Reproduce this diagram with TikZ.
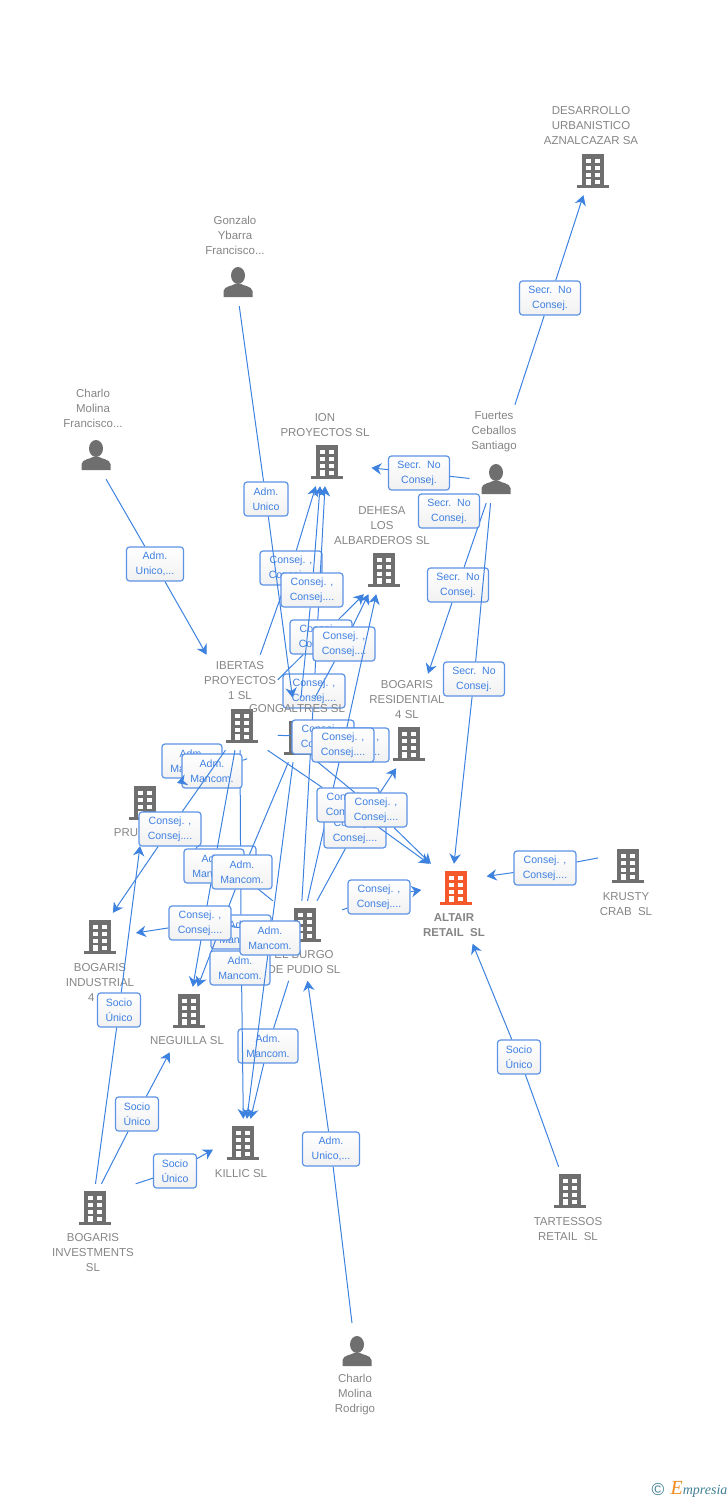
\documentclass[tikz,border=0pt]{standalone}
\usepackage{fontspec}
\setmainfont{Liberation Sans}
\newfontfamily\logofont{Liberation Serif}
\usetikzlibrary{arrows.meta,fit}
\definecolor{officegray}{HTML}{6F6F6F}
\definecolor{tagray}{HTML}{858585}
\definecolor{altairred}{HTML}{F4592B}
\definecolor{lineblue}{HTML}{3E82E0}
\definecolor{roleblue}{HTML}{3F80E2}
\definecolor{boxgray}{HTML}{F1F1F1}
\definecolor{logoteal}{HTML}{3F7F93}
\definecolor{logoorange}{HTML}{F08A1D}
\newcommand{\rolecons}{Consej. ,\\Consej....}
\newcommand{\rolemanc}{Adm.\\Mancom.}
\newcommand{\rolesocio}{Socio\\Único}
\newcommand{\rolesecr}{Secr.\ \ No\\Consej.}
\newcommand{\roleunico}{Adm.\\Unico,...}
\newcommand{\rolesolo}{Adm.\\Unico}
\newcommand{\entity}[7]{%
  \node[#1] (#2-icon) at (#3,#4) {};
  \node[tag,yshift=-.75pt] (#2-text) at (#5,#6) {#7};
  \node[fit=(#2-icon)(#2-text),inner xsep=1pt,inner ysep=5pt] (#2) {};
}
\tikzset{
  >/.tip={Stealth[length=7.5pt,width=8.5pt,inset=2.4pt]},
  link/.style={draw=lineblue,line width=.75pt},
  rolebox/.style={draw=roleblue!85,line width=.9pt,rounded corners=2.25pt,top color=white,bottom color=boxgray,
    text=roleblue,align=center,inner sep=0pt,minimum height=25.5pt,minimum width=#1*.75pt,
    font=\fontsize{7.9pt}{11.25pt}\selectfont},
  tag/.style={text=tagray,align=center,inner sep=0pt,font=\fontsize{8.6pt}{11.25pt}\selectfont},
  office/.style={inner sep=0pt,minimum width=24pt,minimum height=25.5pt,path picture={
    \begin{scope}[shift={(path picture bounding box.center)},x=.75pt,y=.75pt]
      \fill[#1] (-11,-14) rectangle (11,17);
      \fill[#1] (-16,-17) rectangle (16,-14);
      \fill[white] (-7.2,8) rectangle +(5,4);
      \fill[white] (2.2,8) rectangle +(5,4);
      \fill[white] (-7.2,1) rectangle +(5,4);
      \fill[white] (2.2,1) rectangle +(5,4);
      \fill[white] (-7.2,-6) rectangle +(5,4);
      \fill[white] (2.2,-6) rectangle +(5,4);
      \fill[white] (-7.2,-14) rectangle (-2.2,-8);
      \fill[white] (2.2,-12.5) rectangle (7.2,-8.5);
    \end{scope}}},
  office/.default=officegray,
  person/.style={inner sep=0pt,minimum width=24pt,minimum height=25.5pt,path picture={
    \begin{scope}[shift={(path picture bounding box.center)},x=.75pt,y=.75pt]
      \fill[officegray] (0,6.5) ellipse (7 and 8.5);
      \fill[officegray] (-14.5,-15) -- (-14.5,-9) .. controls (-13.5,-4) and (-6,-4) .. (-3,-2) -- (3,-2)
        .. controls (6,-4) and (13.5,-4) .. (14.5,-9) -- (14.5,-15) -- cycle;
    \end{scope}}}
}

\begin{document}
\begin{tikzpicture}[x=.75pt,y=-.75pt]
\useasboundingbox (0,0) rectangle (728,1500);

% companies
\entity{office}{desarrollo}{593}{171}{591}{125}{DESARROLLO\\URBANISTICO\\AZNALCAZAR SA}
\entity{office}{ion}{327}{462}{325}{424}{ION\\PROYECTOS SL}
\entity{office}{dehesa}{384}{570}{382}{525}{DEHESA\\LOS\\ALBARDEROS SL}
\entity{office}{ibertas}{242}{726}{240}{680}{IBERTAS\\PROYECTOS\\1 SL}
\entity{office}{bogres}{409}{744}{407}{699}{BOGARIS\\RESIDENTIAL\\4 SL}
\entity{office}{krusty}{628}{866}{626}{903}{KRUSTY\\CRAB\ \ SL}
\entity{office}{indust}{100}{937}{100}{982}{BOGARIS\\INDUSTRIAL\\4 SL}
\entity{office}{burgo}{305}{925}{304}{961}{EL BURGO\\DE PUDIO SL}
\entity{office}{neguilla}{189}{1011}{187}{1040}{NEGUILLA SL}
\entity{office}{killic}{243}{1143}{241}{1173}{KILLIC SL}
\entity{office}{invest}{95}{1208}{93}{1252}{BOGARIS\\INVESTMENTS\\SL}
\entity{office}{tartessos}{570}{1191}{568}{1228}{TARTESSOS\\RETAIL\ \ SL}
\entity{office=altairred}{altair}{456}{888}{454}{924}{\textbf{ALTAIR}\\\textbf{RETAIL\ \ SL}}
\node[office] (pru-icon) at (145,803) {};
\node[tag,yshift=-.75pt] (pru-text) at (126,832) {PRU};
\coordinate (pruend) at (177,783);
\coordinate (prubase) at (140,846);

% people
\entity{person}{gonzalo}{238}{282}{235}{234}{Gonzalo\\Ybarra\\Francisco...}
\entity{person}{charlof}{96}{455}{93}{407}{Charlo\\Molina\\Francisco...}
\entity{person}{fuertes}{496}{479}{494}{431}{Fuertes\\Ceballos\\Santiago}
\entity{person}{rodrigo}{357}{1351}{355}{1394}{Charlo\\Molina\\Rodrigo}
\coordinate (rodrigotop) at (352,1323);

% outer relations, back part of the centre
\foreach \n/\x/\y/\w/\t/\s/\d in {
  secra/550/298/61/\rolesecr/fuertes.67/desarrollo.261,
  secrb/419/473/61/\rolesecr/fuertes.225/ion.-25,
  secrd/458/585/61/\rolesecr/fuertes.261/bogres.66,
  secre/474/679/61/\rolesecr/fuertes.266/altair.90,
  consk/545/868/62/\rolecons/krusty.139/altair.40,
  sociot/519/1057/43/\rolesocio/tartessos.103/altair.-65,
  unicor/331/1149/57/\roleunico/rodrigotop/burgo.-85,
  unicoc/155/564/57/\roleunico/charlof.-75/ibertas.125,
  socion/137/1114/43/\rolesocio/invest.80/neguilla,
  sociok/175/1171/43/\rolesocio/invest.north east/killic.175,
  sociop/119/1010/43/\rolesocio/invest.87/prubase,
  consa/291/568/62/\rolecons/ibertas.67/ion.-103,
  conse/314/691/62/\rolecons/burgo.93/ion.south}
{
  \node[rolebox=\w] (\n) at (\x,\y) {\t};
  \draw[link] (\s) to (\n);
  \draw[link,->] (\n) to (\d);
}
\node[rolebox=61] (secrc) at (449,511) {\rolesecr};

\entity{office}{gong}{300}{738}{297}{708}{GONGALTRES SL}

% centre, front to the top
\foreach \n/\x/\y/\w/\t/\s/\d in {
  unicog/266/499/44/\rolesolo/gonzalo.-85/gong.98,
  consc/321/637/62/\rolecons/ibertas.31/dehesa.-111,
  consb/312/590/62/\rolecons/gong.83/ion.-97,
  consd/344/644/62/\rolecons/gong.61/dehesa.-106}
{
  \node[rolebox=\w] (\n) at (\x,\y) {\t};
  \draw[link] (\s) to (\n);
  \draw[link,->] (\n) to (\d);
}
\node[rolebox=62] (consf) at (323,737) {\rolecons};
\draw[link] (ibertas.-41) to (consf);
\node[rolebox=62] (consg) at (358,745) {\rolecons};
\foreach \n/\x/\y/\w/\t/\s/\d in {
  consh/343/745/62/\rolecons/burgo.85/dehesa.-97,
  consj/355/831/62/\rolecons/burgo.72/bogres.-103,
  consi/348/805/62/\rolecons/ibertas.-60/altair.122,
  consl/376/810/62/\rolecons/gong.-57/altair.120,
  consm/379/897/62/\rolecons/burgo.39/altair.157,
  manct/268/1046/60/\rolemanc/burgo.-111/killic.74}
{
  \node[rolebox=\w] (\n) at (\x,\y) {\t};
  \draw[link] (\s) to (\n);
  \draw[link,->] (\n) to (\d);
}

% left cluster
\node[rolebox=60] (mancm) at (192,761) {\rolemanc};
\foreach \n/\x/\y/\w/\t/\s/\d in {
  mancq/241/932/60/\rolemanc/ibertas.south/killic.86,
  mancn/212/771/60/\rolemanc/gong.210/pruend}
{
  \node[rolebox=\w] (\n) at (\x,\y) {\t};
  \draw[link] (\s) to (\n);
  \draw[link,->] (\n) to (\d);
}
\node[rolebox=60] (mancb) at (226,863) {\rolemanc};
\draw[link] (burgo.128) to (mancb);
\foreach \n/\x/\y/\w/\t/\s/\d in {
  manco/214/866/60/\rolemanc/ibertas.-96/neguilla.80,
  mancp/242/872/60/\rolemanc/gong.-105/neguilla.72,
  consu/170/829/62/\rolecons/ibertas.-107/indust.75,
  consv/200/923/62/\rolecons/burgo.165/indust.38}
{
  \node[rolebox=\w] (\n) at (\x,\y) {\t};
  \draw[link] (\s) to (\n);
  \draw[link,->] (\n) to (\d);
}
\node[rolebox=60] (mancs) at (240,968) {\rolemanc};
\node[rolebox=60] (mancr) at (270,938) {\rolemanc};
\draw[link] (gong.-97) to (mancr);
\draw[link,->] (mancr) to (killic.80);

% logo
\node[text=logoteal,inner sep=0pt,font=\fontsize{13pt}{13pt}\selectfont] (logomark) at (658,1489) {\textcopyright};
\node[text=logoteal,inner sep=0pt,font=\logofont\itshape\fontsize{10.5pt}{12pt}\selectfont] (logoname) at (699,1489)
  {{\color{logoorange}\fontsize{15pt}{12pt}\selectfont E}mpresia};
\end{tikzpicture}
\end{document}
